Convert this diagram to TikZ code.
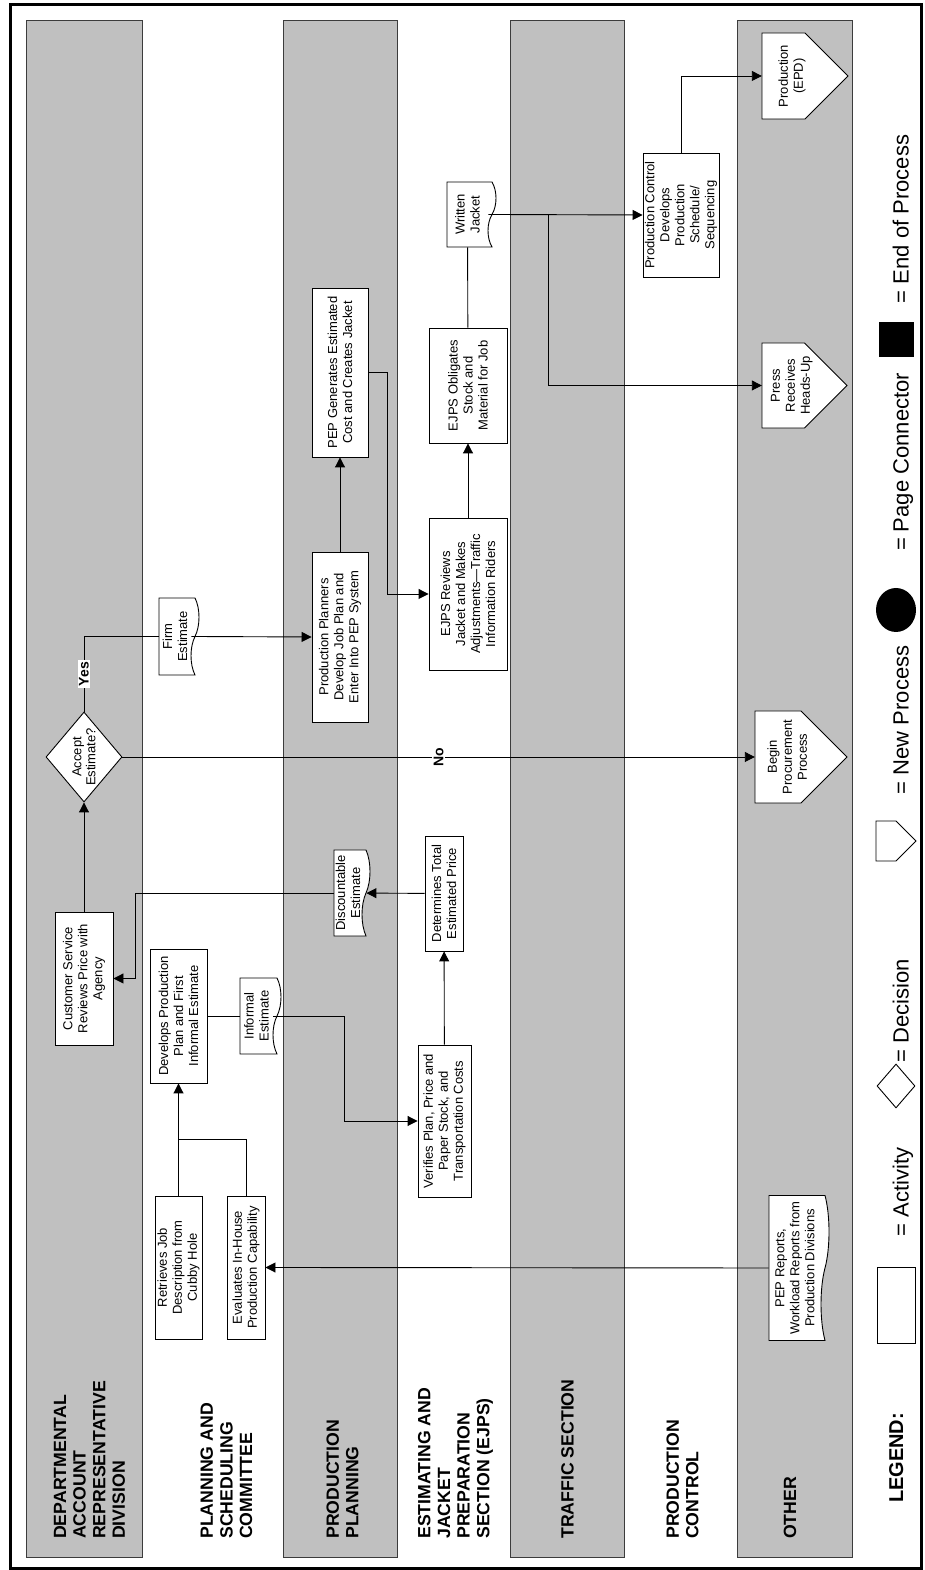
\documentclass[tikz,border=0pt]{standalone}
\usepackage{fontspec}
\setmainfont{Liberation Sans}
\usetikzlibrary{shapes.geometric,shapes.symbols,arrows.meta,positioning,calc}
\definecolor{lanegray}{RGB}{192,192,192}
\definecolor{laneedge}{RGB}{60,60,60}
% new process symbol: name, x, top, width, text
\newcommand{\newprocess}[5]{%
  \filldraw[fill=white, draw=black, line width=0.9pt]
    ({#2-#4/2},{-#3}) -- ({#2+#4/2},{-#3}) -- ({#2+#4/2},{-#3-#4/2})
    -- ({#2},{-#3-#4}) -- ({#2-#4/2},{-#3-#4/2}) -- cycle;
  \node[proctext, minimum width=#4, minimum height={0.7*#4}] (#1) at ({#2},{-#3-0.35*#4}) {#5};}

\begin{document}
\begin{tikzpicture}[
    x=1pt, y=1pt, rotate=90, transform shape,
    activity/.style={rectangle, draw=black, fill=white, line width=0.9pt,
        inner sep=1pt, align=center, font=\fontsize{13}{15}\selectfont},
    docshape/.style={tape, tape bend top=none, tape bend bottom=out and in,
        tape bend height=8pt, draw=black, fill=white, line width=0.9pt,
        inner sep=1pt, align=center, font=\fontsize{13}{15}\selectfont},
    decision/.style={diamond, aspect=1.18, draw=black, fill=white, line width=0.9pt,
        inner sep=0pt, align=center, font=\fontsize{13}{14}\selectfont},
    proctext/.style={rectangle, inner sep=1pt, align=center,
        font=\fontsize{13}{15}\selectfont},
    lanelabel/.style={anchor=west, inner sep=0pt, align=left,
        font=\fontsize{17.7}{19.6}\selectfont\bfseries},
    answer/.style={fill=white, inner sep=1.5pt, font=\fontsize{14}{14}\selectfont\bfseries},
    legendtext/.style={anchor=base, inner sep=0pt, font=\fontsize{22}{22}\selectfont},
    flow/.style={line width=0.9pt},
    >={Triangle[length=10pt,width=10pt]}
]
\useasboundingbox (0,0) rectangle (1570,-924);

% swim lanes
\foreach \ya/\yb in {26/142, 283/397, 510/624, 737/852}
    \draw[laneedge, fill=lanegray, line width=0.9pt] (13,-\ya) rectangle (1550,-\yb);
\draw[line width=3pt] (1.5,-10.7) rectangle (1565.7,-921);

\node[lanelabel] (lanedar) at (31,-89.5) {DEPARTMENTAL\\ACCOUNT\\REPRESENTATIVE\\DIVISION};
\node[lanelabel] (lanepsc) at (31,-226.5) {PLANNING AND\\SCHEDULING\\COMMITTEE};
\node[lanelabel] (lanepp) at (31,-342.5) {PRODUCTION\\PLANNING};
\node[lanelabel] (laneejps) at (31,-455.5) {ESTIMATING AND\\JACKET\\PREPARATION\\SECTION (EJPS)};
\node[lanelabel] (lanetraffic) at (31,-567.5) {TRAFFIC SECTION};
\node[lanelabel] (lanepc) at (31,-682.5) {PRODUCTION\\CONTROL};
\node[lanelabel] (laneother) at (31,-790) {OTHER};

% process steps
\node[activity, minimum width=143, minimum height=47] (retrieve) at (302.5,-178.5) {Retrieves Job\\Description from\\Cubby Hole};
\node[activity, minimum width=143, minimum height=38] (evaluate) at (302.5,-246) {Evaluates In-House\\Production Capability};
\node[activity, minimum width=134, minimum height=57] (develop) at (554,-178.5) {Develops Production\\Plan and First\\Informal Estimate};
\node[docshape, minimum width=76, minimum height=41] (informal) at (554,-256.5) {Informal\\Estimate};
\node[activity, minimum width=133, minimum height=58] (custreview) at (591.5,-84) {Customer Service\\Reviews Price with\\Agency};
\node[decision, minimum width=90, minimum height=76] (accept) at (813,-84) {Accept\\Estimate?};
\node[docshape, minimum width=77, minimum height=40] (firm) at (933.5,-175) {Firm\\Estimate};
\node[activity, minimum width=170, minimum height=56] (planners) at (933,-340) {Production Planners\\Develop Job Plan and\\Enter Into PEP System};
\node[activity, minimum width=169, minimum height=56] (pepgen) at (1197.5,-340) {PEP Generates Estimated\\Cost and Creates Jacket};
\node[docshape, minimum width=86, minimum height=36] (discount) at (677,-348) {Discountable\\Estimate};
\node[activity, minimum width=115, minimum height=38] (totalprice) at (676.5,-444) {Determines Total\\Estimated Price};
\node[activity, minimum width=152, minimum height=53] (verify) at (449,-444.5) {Verifies Plan, Price and\\Paper Stock, and\\Transportation Costs};
\node[activity, minimum width=152, minimum height=78] (ejpsreview) at (976,-468) {EJPS Reviews\\Jacket and Makes\\Adjustments\textemdash Traffic\\Information Riders};
\node[activity, minimum width=115, minimum height=78] (obligate) at (1184.5,-468) {EJPS Obligates\\Stock and\\Material for Job};
\node[docshape, minimum width=65, minimum height=49] (jacket) at (1355.5,-467.5) {Written\\Jacket};
\node[activity, minimum width=124, minimum height=76, inner sep=0pt] (prodctrl) at (1355,-681) {Production Control\\Develops\\Production\\Schedule/\\Sequencing};
\newprocess{epd}{1494}{762}{86}{Production\\(EPD)}
\newprocess{press}{1184.5}{762}{85}{Press\\Receives\\Heads-Up}
\newprocess{procure}{813}{755}{92}{Begin\\Procurement\\Process}
\node[docshape, minimum width=145, minimum height=60] (pepreports) at (302,-795) {PEP Reports,\\Workload Reports from\\Production Divisions};

% connectors
\draw[flow,->] (retrieve) -- (develop);
\draw[flow] (evaluate.east) -| ($(retrieve.east)!0.5!(develop.west)$);
\draw[flow] (develop) -- (informal);
\draw[flow,->] (informal.south) -- ++(0,-71) -| (verify.north);
\draw[flow,->] (verify) -- (totalprice);
\draw[flow,->] (totalprice) -- (discount);
\draw[flow,->] (discount.north) -- ++(0,198) -| (custreview.south);
\draw[flow,->] (custreview) -- (accept);
\draw[flow] (accept.east) -| node[answer, pos=0.25] {Yes} (firm.north);
\draw[flow,->] (firm.south) -- (planners.north);
\draw[flow,->] (planners) -- (pepgen);
\draw[flow,->] (pepgen.south) -- ++(0,-19) -| (ejpsreview.north);
\draw[flow,->] (ejpsreview) -- (obligate);
\draw[flow] (obligate) -- (jacket);
\draw[flow,->] (jacket.south) -- (prodctrl.north);
\coordinate (split) at (jacket.south |- 0,-548);
\draw[flow,->] (split) -| (press.north);
\draw[flow,->] (prodctrl.east) -| (epd.north);
\draw[flow,->] (accept.south) -- node[answer] {No} (procure.north);
\draw[flow,->] (pepreports.north) -- (evaluate.south);

% legend
\node[anchor=base, inner sep=0pt, font=\fontsize{20}{20}\selectfont\bfseries] (legendtitle) at (112,-903) {LEGEND:};
\node[activity, minimum width=76, minimum height=38] (legactivity) at (265,-896) {};
\node[legendtext] (legactivitytxt) at (378,-908.5) {= Activity};
\node[decision, minimum width=44, minimum height=38] (legdecision) at (484,-896) {};
\node[legendtext] (legdecisiontxt) at (559,-908.5) {= Decision};
\newprocess{legnew}{729}{876}{40}{}
\node[legendtext] (legnewtxt) at (850,-908.5) {= New Process};
\node[ellipse, fill=black, minimum width=44, minimum height=40] (legconnector) at (960,-896) {};
\node[legendtext] (legconnectortxt) at (1108,-908.5) {= Page Connector};
\node[rectangle, fill=black, minimum size=35] (legend) at (1230,-896) {};
\node[legendtext] (legendtxt) at (1351,-908.5) {= End of Process};
\end{tikzpicture}
\end{document}
